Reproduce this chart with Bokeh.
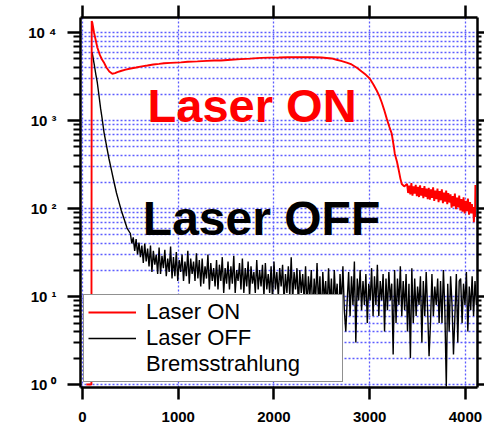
import numpy as np
from bokeh.plotting import figure
from bokeh.models import (Range1d, LogAxis, LinearAxis, FixedTicker, Legend,
                          LegendItem, Label)
from bokeh.core.properties import value
from bokeh.embed import file_html
from bokeh.resources import INLINE

# ---------------- data ----------------
x_ticks = [0, 1000, 2000, 3000, 4000]
y_ticks = [1, 10, 100, 1000, 10000]
y_tick_labels = ["10 \u2070", "10 \u00b9", "10 \u00b2", "10 \u00b3", "10 \u2074"]
y_minor_ticks = [m * 10 ** e for e in range(0, 4) for m in range(2, 10)]

# Laser ON (red) : main curve
on_x = [40, 93, 96, 102, 120, 140, 154, 180, 200, 222,
        250, 280, 311, 340, 364, 400, 450, 503, 560, 620,
        678, 740, 800, 852, 920, 1027, 1100, 1200, 1300, 1376,
        1447, 1550, 1650, 1750, 1867, 1950, 2050, 2150, 2287, 2400,
        2497, 2602, 2654, 2700, 2760, 2811, 2870, 2916, 2960, 3000,
        3040, 3073, 3100, 3126, 3150, 3178, 3205, 3230, 3250, 3262,
        3285, 3304, 3320, 3335, 3360]
on_y = [1, 1, 13500, 13000, 10000, 8000, 6800, 5600, 5000, 4600,
        4000, 3600, 3400, 3450, 3550, 3650, 3780, 3900, 4000, 4120,
        4220, 4330, 4400, 4470, 4520, 4580, 4650, 4700, 4760, 4800,
        4800, 4900, 4980, 5050, 5150, 5180, 5200, 5230, 5250, 5240,
        5200, 5070, 4900, 4750, 4550, 4330, 3950, 3600, 3300, 3000,
        2550, 2190, 1900, 1600, 1330, 1050, 850, 710, 520, 420,
        340, 270, 220, 190, 178]
# Laser ON : noisy tail, channels 3390..4060
on_tail_y = [190, 150, 182, 145, 195, 140, 178, 148, 186, 138,
             176, 135, 183, 140, 170, 131, 180, 136, 168, 128,
             172, 126, 165, 132, 174, 122, 160, 128, 168, 118,
             158, 124, 165, 115, 152, 120, 160, 112, 150, 117,
             145, 102, 138, 106, 148, 98, 133, 103, 140, 95,
             128, 92, 134, 88, 122, 93, 130, 85, 118, 88]
on_end_x = [4068, 4075, 4082, 4088, 4094, 4100, 4104]
on_end_y = [112, 88, 104, 70, 96, 80, 185]

# Laser OFF (black) : fast decay
off_x = [100, 120, 140, 154, 170, 189, 205, 224, 250, 276,
         300, 329, 355, 381, 405, 433, 465]
off_y = [5970, 4500, 3300, 2720, 2000, 1370, 1050, 740, 520, 370,
         280, 200, 150, 118, 95, 77, 60]
# Laser OFF : noisy Bremsstrahlung floor, channels 500..4115
off_noise_y = [52, 40, 47, 33, 45, 30, 41, 28, 38, 24,
               40, 25, 35, 22, 38, 19, 33, 23, 30, 18,
               36, 18, 29, 21, 34, 17, 27, 19, 37, 16,
               28, 17, 32, 15, 26, 19, 30, 15, 25, 17,
               33, 14, 27, 18, 25, 15, 31, 16, 26, 13,
               27, 14, 22, 16, 30, 12, 24, 15, 21, 13,
               26, 12, 23, 15, 28, 11, 21, 14, 25, 12,
               22, 14, 29, 11, 20, 15, 24, 12, 27, 11,
               21, 13, 25, 10, 22, 14, 19, 11, 26, 12,
               20, 13, 23, 10, 24, 12, 18, 11, 22, 9,
               25, 12, 19, 10, 21, 13, 23, 9, 18, 11,
               22, 10, 28, 9, 19, 12, 21, 8, 20, 11,
               18, 9, 22, 7, 17, 10, 20, 6, 16, 9,
               24, 8, 17, 5, 19, 9, 15, 7, 21, 8,
               16, 6, 20, 9, 14, 4, 18, 8, 22, 7,
               4, 9, 19, 6, 17, 8, 25, 3, 16, 9,
               20, 7, 15, 8, 18, 5, 14, 9, 21, 6,
               17, 8, 23, 6, 15, 9, 18, 4, 16, 7,
               19, 9, 14, 2.2, 20, 5, 16, 8, 22, 6,
               15, 7, 18, 4, 14, 2.0, 21, 5, 16, 6,
               13, 8, 17, 3, 15, 6, 19, 7, 2.1, 5,
               18, 6, 13, 8, 16, 5, 15, 5, 20, 7,
               0.95, 14, 4, 17, 8, 2.2, 6, 18, 3, 15,
               16, 5, 14, 8, 19, 4, 13, 7, 17, 6,
               15, 8]

# ---------------- assemble series ----------------
red_x = on_x + list(np.linspace(3390, 4060, len(on_tail_y))) + on_end_x
red_y = on_y + on_tail_y + on_end_y
blk_x = off_x + list(np.linspace(500, 4115, len(off_noise_y)))
blk_y = off_y + off_noise_y

FONT = "Liberation Sans"

p = figure(width=484, height=429,
           x_range=Range1d(-21, 4126), y_range=Range1d(0.925, 14800),
           y_axis_type="log", output_backend="svg", toolbar_location=None,
           min_border_left=80, min_border_right=7, min_border_top=17,
           min_border_bottom=42)
p.outline_line_color = None
p.background_fill_color = "white"
p.border_fill_color = "white"

# grids
grid_col = "#5c5cff"
for g in (p.xgrid, p.ygrid):
    g.grid_line_color = grid_col
    g.grid_line_dash = "2 2"
    g.grid_line_width = 1.3
p.ygrid.minor_grid_line_color = grid_col
p.ygrid.minor_grid_line_dash = "2 2"
p.ygrid.minor_grid_line_width = 1.3

xt = FixedTicker(ticks=x_ticks, minor_ticks=[])
yt = FixedTicker(ticks=y_ticks, minor_ticks=y_minor_ticks)

def style_axis(ax, tick_out, minor_out):
    ax.axis_line_width = 2.5
    ax.axis_line_color = "black"
    ax.major_tick_line_width = 2.5
    ax.minor_tick_line_width = 2
    ax.major_tick_in = 0
    ax.minor_tick_in = 0
    ax.major_tick_out = tick_out
    ax.minor_tick_out = minor_out
    ax.major_label_text_font = FONT
    ax.major_label_text_font_style = "bold"
    ax.major_label_text_font_size = "15px"
    ax.major_label_text_color = "black"

xa = p.xaxis[0]
xa.ticker = xt
style_axis(xa, 12, 0)
xa.major_label_standoff = 12
p.xgrid.ticker = xt

ya = p.yaxis[0]
ya.ticker = yt
style_axis(ya, 13, 7)
ya.major_label_standoff = 11
ya.major_label_overrides = dict(zip(y_ticks, y_tick_labels))
p.ygrid.ticker = yt

top = LinearAxis(ticker=FixedTicker(ticks=x_ticks, minor_ticks=[]))
style_axis(top, 12, 0)
top.major_label_overrides = {t: "" for t in x_ticks}
top.major_label_standoff = 0
p.add_layout(top, "above")

right = LogAxis(ticker=FixedTicker(ticks=y_ticks, minor_ticks=y_minor_ticks))
style_axis(right, 7, 4)
right.major_label_overrides = {t: "" for t in y_ticks}
right.major_label_standoff = 0
p.add_layout(right, "right")

# data lines
r_off = p.line(blk_x, blk_y, line_color="black", line_width=1.4)
r_on = p.line(red_x, red_y, line_color="#ff0000", line_width=1.9)
dummy = p.line(red_x, red_y, line_alpha=0)

# big annotations
p.add_layout(Label(x=680, y=1480, text="Laser ON", text_color="#ff0000",
                   text_font=FONT, text_font_style="bold",
                   text_font_size="47px", text_baseline="alphabetic"))
p.add_layout(Label(x=630, y=77, text="Laser OFF", text_color="black",
                   text_font=FONT, text_font_style="bold",
                   text_font_size="48px", text_baseline="alphabetic"))

legend = Legend(items=[
    LegendItem(label=value("Laser ON"), renderers=[r_on]),
    LegendItem(label=value("Laser OFF"), renderers=[r_off]),
    LegendItem(label=value("Bremsstrahlung"), renderers=[dummy]),
], location=(3, 5), orientation="vertical", margin=0, padding=4, spacing=0,
   glyph_width=48, glyph_height=24, label_height=24, label_width=192,
   label_standoff=10, label_text_font=FONT, label_text_font_size="22px",
   label_text_color="black", border_line_color="#222222",
   border_line_width=1.5, background_fill_color="white",
   background_fill_alpha=1.0)
p.add_layout(legend)

open("out.html", "w").write(file_html(p, INLINE))
